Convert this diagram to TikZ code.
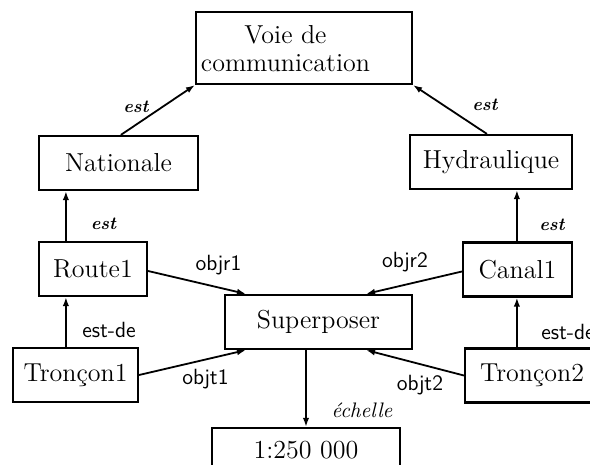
\documentclass[tikz,border=0pt]{standalone}
\usepackage{tikz}
\usetikzlibrary{arrows.meta}

\begin{document}
\begin{tikzpicture}[
    x=0.5pt, y=-0.5pt,
    box/.style={draw, line width=1.1pt, inner sep=0pt, minimum height=27pt,
                font=\fontsize{13}{14}\selectfont},
    arr/.style={line width=0.9pt, -{Latex[length=4.5pt,width=3.2pt]}},
    rel/.style={font=\fontsize{9}{11}\selectfont\bfseries\itshape},
    role/.style={font=\fontsize{11}{13}\selectfont\sffamily}
  ]
  \useasboundingbox (0,0) rectangle (590,465);

  % concepts
  \node[box, minimum width=108pt, minimum height=36pt] (voie) at (304,48) {};
  \node[font=\fontsize{13}{14}\selectfont, align=center, inner sep=0pt] (voietxt) at (285.5,49) {Voie de\\communication};
  \node[box, minimum width=79.5pt] (nat) at (118.5,163) {Nationale};
  \node[box, minimum width=81pt]   (hyd) at (491,162) {Hydraulique};

  % objets
  \node[box, minimum width=54pt]   (route) at (93,269) {Route1};
  \node[box, minimum width=54.5pt] (canal) at (517.5,269.5) {Canal1};
  \node[box, minimum width=62.5pt] (tr1) at (75.5,375) {Tronçon1};
  \node[box, minimum width=67pt]   (tr2) at (532,375.5) {Tronçon2};

  % relation
  \node[box, minimum width=93.5pt] (sup) at (318.5,322) {Superposer};
  \node[box, minimum width=94pt, minimum height=22pt] (ech) at (306,450) {1:250 000};

  \draw[arr] ([xshift=41.5pt]nat.north west) -- (voie.south west);
  \draw[arr] ([xshift=39pt]hyd.north west) -- (voie.south east);
  \draw[arr] ([xshift=14pt]route.north west) -- ([xshift=14pt]nat.south west);
  \draw[arr] ([xshift=27.5pt]canal.north west) -- ([xshift=54pt]hyd.south west);
  \draw[arr] ([xshift=27pt]tr1.north west) -- ([xshift=14pt]route.south west);
  \draw[arr] ([xshift=26.5pt]tr2.north west) -- ([xshift=27.5pt]canal.south west);

  \draw[arr] ([yshift=-1pt]route.east) -- ([xshift=11pt]sup.north west);
  \draw[arr] ([yshift=-1pt]canal.west) -- ([xshift=-23.5pt]sup.north east);
  \draw[arr] (tr1.east) -- ([xshift=11pt]sup.south west);
  \draw[arr] (tr2.west) -- ([xshift=-23.5pt]sup.south east);
  \draw[arr] (sup.south -| ech.north) -- (ech.north);

  \node[rel] (estnat) at (136,107) {est};
  \node[rel] (esthyd) at (485,105) {est};
  \node[rel] (estroute) at (103.5,224) {est};
  \node[rel] (estcanal) at (552,225) {est};
  \node[role] (estde1) at (109,330) {est-de};
  \node[role] (estde2) at (568,332) {est-de};
  \node[role] (objr1) at (218.5,265) {objr1};
  \node[role] (objr2) at (405,262) {objr2};
  \node[role] (objt1) at (205.5,379) {objt1};
  \node[role] (objt2) at (420,385) {objt2};
  \node[font=\fontsize{10.5}{12}\selectfont\itshape] (echlbl) at (362,410) {échelle};
\end{tikzpicture}
\end{document}
